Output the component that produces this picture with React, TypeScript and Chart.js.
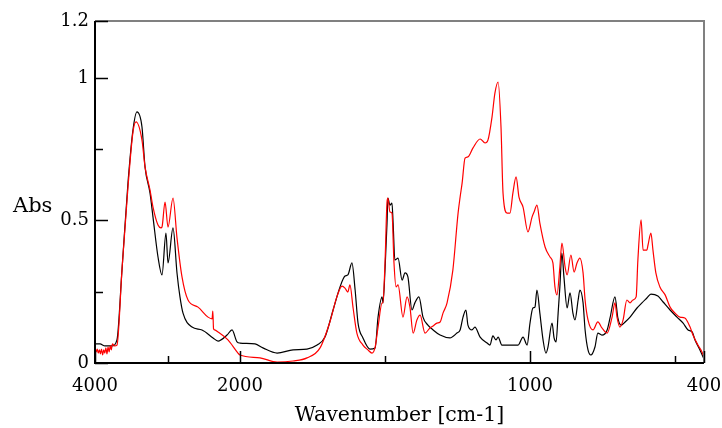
import { useEffect, useRef } from 'react';
import { Chart, registerables } from 'chart.js';

Chart.register(...registerables);

// ---- data (wavenumber in cm-1, absorbance) ----
const blackWavenumbers = [
  4000, 3931, 3862, 3766, 3697, 3628, 3545, 3476, 3421, 3352, 3310, 3241, 3200, 3131, 3076, 3021, 2993, 2924, 2869, 2828,
  2786, 2662, 2524, 2372, 2303, 2179, 2110, 2041, 2000, 1948, 1921, 1872, 1817, 1769, 1734, 1707, 1679, 1655, 1638, 1628,
  1614, 1603, 1593, 1576, 1552, 1534, 1524, 1510, 1507, 1500, 1493, 1490, 1483, 1476, 1472, 1466, 1455, 1441, 1431, 1421,
  1407, 1397, 1383, 1369, 1352, 1334, 1310, 1276, 1252, 1241, 1231, 1221, 1214, 1200, 1190, 1172, 1148, 1138, 1128, 1117,
  1110, 1097, 1069, 1041, 1024, 1010, 1000, 990, 983, 976, 966, 955, 945, 938, 924, 917, 910, 903, 897, 890,
  883, 872, 862, 852, 845, 834, 828, 817, 810, 800, 790, 776, 766, 752, 734, 724, 707, 697, 686, 672,
  655, 631, 614, 597, 583, 559, 541, 517, 493, 472, 455, 441, 431, 414, 400,
];
const blackAbsorbance = [
  0.067, 0.067, 0.060, 0.060, 0.081, 0.326, 0.632, 0.818, 0.881, 0.828, 0.688, 0.596, 0.512, 0.372, 0.309, 0.456, 0.351, 0.474, 0.316, 0.232,
  0.175, 0.126, 0.116, 0.088, 0.077, 0.098, 0.116, 0.074, 0.070, 0.067, 0.053, 0.035, 0.046, 0.049, 0.063, 0.091, 0.186, 0.267, 0.305, 0.309,
  0.351, 0.256, 0.140, 0.088, 0.049, 0.053, 0.161, 0.232, 0.211, 0.326, 0.491, 0.579, 0.554, 0.561, 0.491, 0.361, 0.368, 0.291, 0.316, 0.302,
  0.186, 0.211, 0.232, 0.161, 0.133, 0.116, 0.098, 0.088, 0.105, 0.116, 0.161, 0.186, 0.133, 0.116, 0.126, 0.091, 0.070, 0.063, 0.095, 0.081,
  0.091, 0.063, 0.063, 0.063, 0.091, 0.063, 0.140, 0.193, 0.196, 0.256, 0.175, 0.081, 0.035, 0.056, 0.140, 0.088, 0.074, 0.175, 0.267, 0.386,
  0.302, 0.193, 0.246, 0.175, 0.151, 0.221, 0.256, 0.211, 0.116, 0.046, 0.028, 0.056, 0.105, 0.098, 0.116, 0.158, 0.232, 0.158, 0.133, 0.144,
  0.161, 0.193, 0.211, 0.228, 0.242, 0.235, 0.214, 0.186, 0.161, 0.140, 0.116, 0.109, 0.081, 0.046, 0.014,
];

const redWavenumbers = [
  4000, 3985, 3970, 3955, 3940, 3925, 3910, 3895, 3880, 3865, 3850, 3835, 3820, 3805, 3790, 3775, 3760, 3730, 3697, 3628,
  3545, 3476, 3434, 3352, 3310, 3241, 3200, 3131, 3090, 3076, 3034, 2993, 2924, 2869, 2800, 2717, 2579, 2441, 2385, 2375,
  2365, 2350, 2303, 2166, 2028, 2000, 1931, 1872, 1817, 1769, 1724, 1690, 1666, 1648, 1638, 1628, 1621, 1610, 1597, 1576,
  1559, 1545, 1534, 1524, 1510, 1507, 1500, 1493, 1490, 1483, 1476, 1469, 1462, 1455, 1438, 1424, 1414, 1403, 1390, 1379,
  1362, 1345, 1334, 1321, 1310, 1300, 1286, 1266, 1248, 1241, 1234, 1224, 1214, 1197, 1172, 1155, 1145, 1131, 1121, 1110,
  1100, 1093, 1079, 1069, 1059, 1048, 1038, 1024, 1007, 993, 986, 976, 966, 948, 931, 921, 914, 907, 897, 890,
  879, 872, 859, 848, 838, 828, 817, 810, 800, 783, 766, 752, 734, 717, 707, 700, 690, 679, 666, 655,
  645, 634, 628, 617, 610, 597, 593, 583, 576, 566, 552, 534, 517, 500, 483, 466, 448, 438, 421, 407,
  400,
];
const redAbsorbance = [
  0.046, 0.039, 0.049, 0.035, 0.046, 0.032, 0.049, 0.028, 0.046, 0.035, 0.053, 0.032, 0.056, 0.039, 0.060, 0.046, 0.067, 0.060, 0.063, 0.326,
  0.618, 0.811, 0.846, 0.782, 0.688, 0.607, 0.547, 0.484, 0.474, 0.477, 0.565, 0.477, 0.579, 0.439, 0.302, 0.221, 0.196, 0.161, 0.155, 0.182,
  0.120, 0.116, 0.109, 0.081, 0.035, 0.028, 0.018, 0.003, 0.007, 0.018, 0.053, 0.144, 0.232, 0.270, 0.263, 0.249, 0.274, 0.193, 0.105, 0.063,
  0.046, 0.035, 0.056, 0.126, 0.211, 0.211, 0.351, 0.565, 0.579, 0.530, 0.526, 0.351, 0.267, 0.274, 0.161, 0.232, 0.196, 0.105, 0.151, 0.168,
  0.105, 0.123, 0.130, 0.140, 0.144, 0.175, 0.211, 0.326, 0.526, 0.582, 0.632, 0.719, 0.723, 0.754, 0.786, 0.772, 0.782, 0.863, 0.947, 0.986,
  0.828, 0.596, 0.526, 0.526, 0.596, 0.653, 0.582, 0.547, 0.460, 0.512, 0.530, 0.554, 0.491, 0.407, 0.372, 0.351, 0.267, 0.239, 0.337, 0.421,
  0.337, 0.309, 0.379, 0.319, 0.351, 0.368, 0.316, 0.221, 0.151, 0.116, 0.144, 0.123, 0.105, 0.161, 0.211, 0.161, 0.126, 0.151, 0.221, 0.211,
  0.221, 0.232, 0.361, 0.502, 0.396, 0.396, 0.414, 0.456, 0.396, 0.316, 0.267, 0.239, 0.196, 0.175, 0.161, 0.158, 0.126, 0.098, 0.063, 0.039,
  0.021,
];

const xTickValues = [4000, 3000, 2000, 1500, 1000, 500, 400];
const xTickLabels = ['4000', '', '2000', '', '1000', '', '400'];
const yTickValues = [0, 0.25, 0.5, 0.75, 1, 1.2];
const yTickLabels = ['0', '', '0.5', '', '1', '1.2'];
const xTitle = 'Wavenumber [cm-1]';
const yTitle = 'Abs';

// split wavenumber axis: 4000-2000 compressed 4x, 2000-400 linear
const toAxis = (wn: number) => (wn >= 2000 ? (4000 - wn) / 4 : 500 + (2000 - wn));

const FONT = 'DejaVu Serif';

const framePlugin = {
  id: 'frame',
  afterDatasetsDraw(chart: any) {
    const { ctx, chartArea } = chart;
    const { left, right, top, bottom } = chartArea;
    const xs = chart.scales.x;
    const ys = chart.scales.y;
    ctx.save();
    ctx.lineWidth = 2;
    ctx.strokeStyle = '#808080';
    ctx.beginPath();
    ctx.moveTo(left, top);
    ctx.lineTo(right, top);
    ctx.lineTo(right, bottom);
    ctx.stroke();
    ctx.strokeStyle = '#000000';
    ctx.beginPath();
    ctx.moveTo(left, top);
    ctx.lineTo(left, bottom);
    ctx.lineTo(right, bottom);
    ctx.stroke();
    ctx.lineWidth = 1.5;
    ctx.beginPath();
    xTickValues.forEach((v, i) => {
      const px = Math.round(xs.getPixelForValue(toAxis(v))) + 0.5;
      const len = xTickLabels[i] ? 12 : 7;
      ctx.moveTo(px, bottom);
      ctx.lineTo(px, bottom - len);
    });
    yTickValues.forEach((v, i) => {
      const py = Math.round(ys.getPixelForValue(v)) + 0.5;
      const len = yTickLabels[i] ? 13 : 8;
      ctx.moveTo(left, py);
      ctx.lineTo(left + len, py);
    });
    ctx.stroke();
    ctx.fillStyle = '#000000';
    ctx.font = `21px "${FONT}"`;
    ctx.textAlign = 'left';
    ctx.textBaseline = 'middle';
    ctx.fillText(yTitle, 13, 207);
    ctx.restore();
  },
};

export default function App() {
  const ref = useRef<HTMLCanvasElement | null>(null);
  useEffect(() => {
    document.body.style.margin = '0';
    const canvas = ref.current;
    if (!canvas) return;
    const chart = new Chart(canvas, {
      type: 'line',
      data: {
        datasets: [
          {
            label: 'red',
            data: redWavenumbers.map((w, i) => ({ x: toAxis(w), y: redAbsorbance[i] })),
            borderColor: '#ff0000',
            borderWidth: 1.2,
            pointRadius: 0,
            cubicInterpolationMode: 'monotone',
            fill: false,
          },
          {
            label: 'black',
            data: blackWavenumbers.map((w, i) => ({ x: toAxis(w), y: blackAbsorbance[i] })),
            borderColor: '#000000',
            borderWidth: 1.2,
            pointRadius: 0,
            cubicInterpolationMode: 'monotone',
            fill: false,
          },
        ],
      },
      options: {
        animation: false,
        responsive: false,
        devicePixelRatio: 1,
        parsing: false,
        layout: { padding: { top: 21, right: 18, left: 0, bottom: 0 } },
        plugins: { legend: { display: false }, tooltip: { enabled: false } },
        scales: {
          x: {
            type: 'linear',
            min: 0,
            max: toAxis(400),
            grid: { display: false, drawTicks: false },
            border: { display: false },
            afterFit: (s: any) => {
              s.height = 65;
              s.paddingLeft = 0;
              s.paddingRight = 0;
            },
            afterBuildTicks: (s: any) => {
              s.ticks = xTickValues.map((v) => ({ value: toAxis(v) }));
            },
            ticks: {
              autoSkip: false,
              maxRotation: 0,
              padding: 13,
              color: '#000000',
              font: { family: FONT, size: 18 },
              callback: (_v: any, i: number) => xTickLabels[i],
            },
            title: {
              display: true,
              text: xTitle,
              color: '#000000',
              font: { family: FONT, size: 20.5 },
              padding: { top: 0, bottom: 0 },
            },
          },
          y: {
            type: 'linear',
            min: 0,
            max: 1.2,
            grid: { display: false, drawTicks: false },
            border: { display: false },
            afterFit: (s: any) => {
              s.width = 95;
              s.paddingTop = 0;
              s.paddingBottom = 0;
            },
            afterBuildTicks: (s: any) => {
              s.ticks = yTickValues.map((v) => ({ value: v }));
            },
            ticks: {
              autoSkip: false,
              padding: 6,
              color: '#000000',
              font: { family: FONT, size: 18 },
              callback: (_v: any, i: number) => yTickLabels[i],
            },
          },
        },
      },
      plugins: [framePlugin],
    } as any);
    return () => chart.destroy();
  }, []);
  return (
    <div style={{ position: 'absolute', left: 0, top: 0, width: 722, height: 428 }}>
      <canvas ref={ref} width={722} height={428} />
    </div>
  );
}
